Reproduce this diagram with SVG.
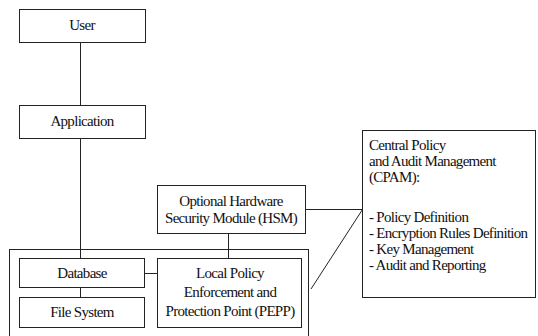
<svg xmlns="http://www.w3.org/2000/svg" width="538" height="336" viewBox="0 0 538 336">
<style>
.box{fill:#fff;stroke:#222;stroke-width:1}
.frame{fill:none;stroke:#222;stroke-width:1}
.ln{stroke:#222;stroke-width:1;fill:none}
.t{font-family:'Liberation Serif','Times New Roman',serif;font-size:15px;letter-spacing:-0.7px;fill:#111}
.c{text-anchor:middle}
</style>
<rect width="538" height="336" fill="#fff"/>
<g id="local-system">
<rect class="frame" x="9.5" y="249.5" width="299" height="100"/>
</g>
<g id="connectors">
<line class="ln" x1="80.5" y1="42" x2="80.5" y2="105"/>
<line class="ln" x1="80.5" y1="138" x2="80.5" y2="258"/>
<line class="ln" x1="80.5" y1="287" x2="80.5" y2="297"/>
<line class="ln" x1="144" y1="273.5" x2="157" y2="273.5"/>
<line class="ln" x1="228.5" y1="233" x2="228.5" y2="258"/>
<line class="ln" x1="305" y1="209.5" x2="362.5" y2="209.5"/>
<line class="ln" x1="311" y1="289" x2="362.5" y2="209.5"/>
</g>
<g id="user" class="t">
<rect class="box" x="19.5" y="9.5" width="126" height="33"/>
<text class="c" x="82" y="30">User</text>
</g>
<g id="application" class="t">
<rect class="box" x="19.5" y="105.5" width="126" height="33"/>
<text class="c" x="82" y="126">Application</text>
</g>
<g id="hsm" class="t">
<rect class="box" x="157.5" y="185.5" width="148" height="48"/>
<text class="c" x="231" y="206">Optional Hardware</text>
<text class="c" x="231" y="223">Security Module (HSM)</text>
</g>
<g id="database" class="t">
<rect class="box" x="19.5" y="258.5" width="125" height="29"/>
<text class="c" x="82" y="278">Database</text>
</g>
<g id="filesystem" class="t">
<rect class="box" x="19.5" y="297.5" width="125" height="30"/>
<text class="c" x="82" y="317">File System</text>
</g>
<g id="pepp" class="t">
<rect class="box" x="157.5" y="258.5" width="144" height="69"/>
<text class="c" x="230" y="278">Local Policy</text>
<text class="c" x="230" y="297">Enforcement and</text>
<text class="c" x="230" y="316">Protection Point (PEPP)</text>
</g>
<g id="cpam" class="t">
<rect class="box" x="362.5" y="130.5" width="173" height="167"/>
<text x="369" y="150">Central Policy</text>
<text x="369" y="166">and Audit Management</text>
<text x="369" y="182">(CPAM):</text>
<text x="369" y="222">- Policy Definition</text>
<text x="369" y="238">- Encryption Rules Definition</text>
<text x="369" y="254">- Key Management</text>
<text x="369" y="270">- Audit and Reporting</text>
</g>
</svg>
